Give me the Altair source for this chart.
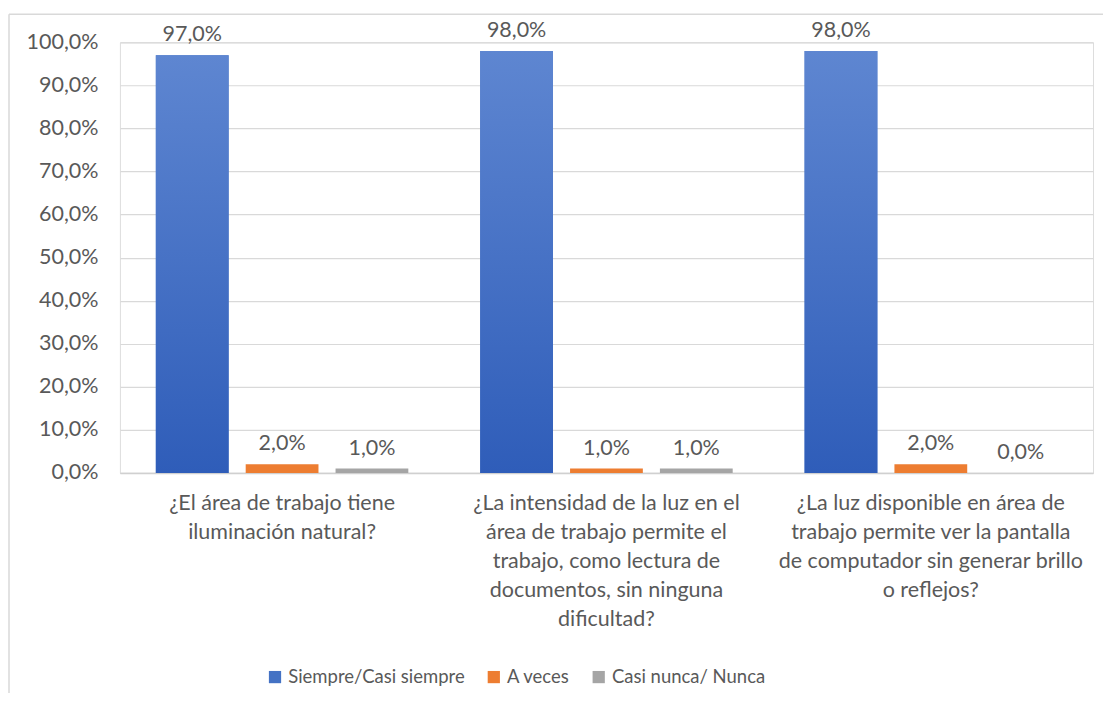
import altair as alt
import pandas as pd

categories = [
    "¿El área de trabajo tiene\niluminación natural?",
    "¿La intensidad de la luz en el\nárea de trabajo permite el\ntrabajo, como lectura de\ndocumentos, sin ninguna\ndificultad?",
    "¿La luz disponible en área de\ntrabajo permite ver la pantalla\nde computador sin generar brillo\no reflejos?",
]
series = ["Siempre/Casi siempre", "A veces", "Casi nunca/ Nunca"]
siempre = [0.97, 0.98, 0.98]
a_veces = [0.02, 0.01, 0.02]
casi_nunca = [0.01, 0.01, 0.00]
colors = ["#4472C4", "#ED7D31", "#A5A5A5"]

rows = []
for i, c in enumerate(categories):
    for s, vals in zip(series, [siempre, a_veces, casi_nunca]):
        rows.append({"cat": c, "serie": s, "valor": vals[i]})
df = pd.DataFrame(rows)

FONT = "Lato"
TXT = "#595959"
W, H = 974, 431
FS = 21.5

x_enc = alt.X("cat:N", sort=categories, title=None,
              scale=alt.Scale(paddingInner=0, paddingOuter=0),
              axis=alt.Axis(labelAngle=0, ticks=False, domain=True, domainColor="#D0D0D0",
                            domainWidth=1.5, labelExpr="split(datum.label, '\\n')",
                            labelFont=FONT, labelFontSize=FS, labelColor=TXT,
                            labelLineHeight=29, labelPadding=20, labelLimit=500,
                            labelBaseline="top"))
xoff = alt.XOffset("serie:N", sort=series,
                   scale=alt.Scale(paddingInner=0.19, paddingOuter=0.4))
y_enc = alt.Y("valor:Q", title=None,
              scale=alt.Scale(domain=[0, 1]),
              axis=alt.Axis(values=[i / 10 for i in range(11)], ticks=False, domain=False,
                            gridColor="#D9D9D9", gridWidth=1.2,
                            labelExpr="replace(format(datum.value, '.1%'), '.', ',')",
                            labelFont=FONT, labelFontSize=FS, labelColor=TXT,
                            labelPadding=22))

base = alt.Chart(df)

bars = base.mark_bar().encode(
    x=x_enc, xOffset=xoff, y=y_enc,
    color=alt.Color("serie:N", sort=series,
                    scale=alt.Scale(domain=series, range=colors),
                    legend=alt.Legend(title=None, orient="none", direction="horizontal",
                                      legendX=146, legendY=626,
                                      symbolType="square", symbolSize=150,
                                      symbolStrokeWidth=0,
                                      labelFont=FONT, labelFontSize=18.5, labelColor=TXT,
                                      columnPadding=19, labelOffset=4, labelLimit=400)),
)

blue = base.transform_filter(alt.datum.serie == series[0]).mark_bar(
    color=alt.Gradient(gradient="linear", x1=0, y1=0, x2=0, y2=1,
                       stops=[alt.GradientStop(color="#5E86D1", offset=0),
                              alt.GradientStop(color="#2F5DB9", offset=1)])
).encode(x=alt.X("cat:N", sort=categories), xOffset=xoff, y="valor:Q")

labels = base.transform_calculate(
    lbl="replace(format(datum.valor, '.1%'), '.', ',')"
).mark_text(baseline="bottom", dy=-9, font=FONT, fontSize=FS, color=TXT).encode(
    x=alt.X("cat:N", sort=categories), xOffset=xoff, y="valor:Q", text="lbl:N"
)

frame = pd.DataFrame({"a": [0]})
border_left = alt.Chart(frame).mark_rule(stroke="#D9D9D9", strokeWidth=1.5).encode(
    x=alt.value(-111), y=alt.value(-28), y2=alt.value(H + 300))
border_top = alt.Chart(frame).mark_rule(stroke="#D9D9D9", strokeWidth=1.5).encode(
    x=alt.value(-111), x2=alt.value(W + 20), y=alt.value(-28))

chart = alt.layer(border_left, border_top, bars, blue, labels).properties(
    width=W, height=H,
    autosize=alt.AutoSizeParams(type="none"),
    padding={"left": 112, "top": 34, "right": 10, "bottom": 220},
).configure_view(stroke=None).configure(background="white")

chart.save("out.html", embed_options={"renderer": "svg", "actions": False})
